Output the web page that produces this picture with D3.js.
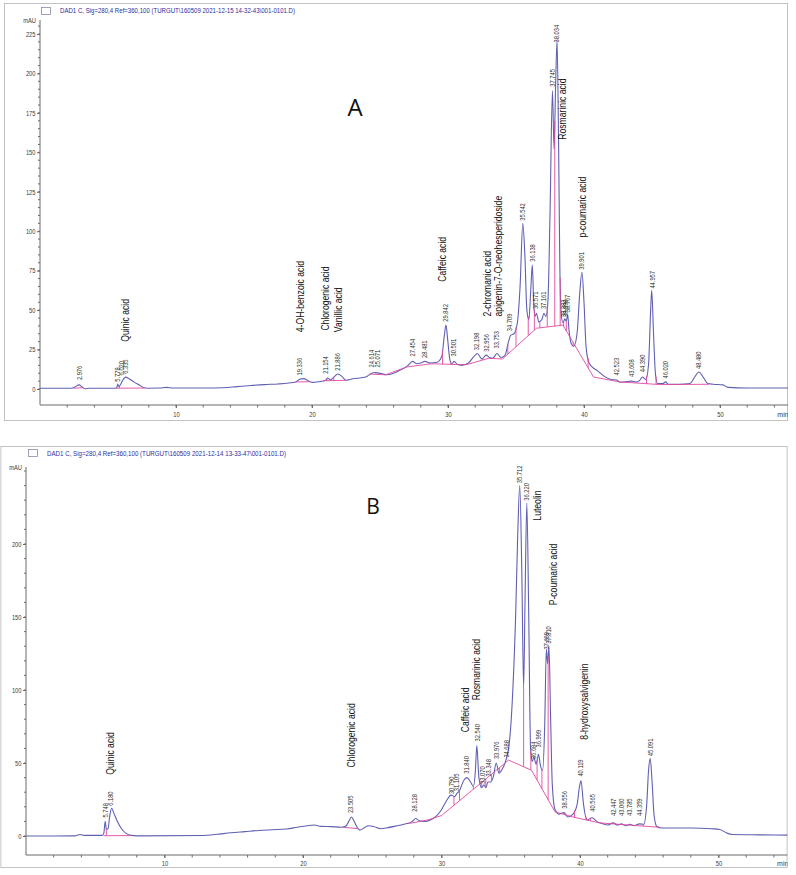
<!DOCTYPE html>
<html>
<head>
<meta charset="utf-8">
<script src="https://cdnjs.cloudflare.com/ajax/libs/d3/7.8.5/d3.min.js"></script>
<style>
  body { margin: 0; background: #fff; }
  svg { display: block; }
  .narrow { font-family: "Liberation Sans", Arial, sans-serif; }
  .ax text { font-family: "Liberation Sans", Arial, sans-serif; font-size: 7px; fill: #3a3a3a; }
  .ax line, .ax path { stroke: #6a6a6a; }
</style>
</head>
<body>
<svg id="chart" width="796" height="875"></svg>
<script>
// ---------- data (time in min, signal in mAU) ----------

var headerA = "DAD1 C, Sig=280,4 Ref=360,100 (TURGUT\\160509 2021-12-15 14-32-43\\001-0101.D)";
var headerB = "DAD1 C, Sig=280,4 Ref=360,100 (TURGUT\\160509 2021-12-14 13-33-47\\001-0101.D)";

var xTicks  = [10, 20, 30, 40, 50];
var yTicksA = [0, 25, 50, 75, 100, 125, 150, 175, 200, 225];
var yTicksB = [0, 50, 100, 150, 200];

// trace A
var traceA = [
 [0,0.5],[2.3,0.5],[2.6,1.5],[2.87,2.6],[3.1,1.3],[3.3,0.2],[3.6,0.5],
 [5.55,0.5],[5.65,1],[5.72,3.2],[5.8,1.5],[5.9,2.5],[6.05,5],[6.3,7.5],[6.55,6.5],[6.9,4.5],[7.3,2.5],[7.6,1],[7.9,0.5],
 [8.8,0.6],[9.3,1.0],[9.8,0.6],[12,0.6],[13.5,0.8],[14.5,1.5],[15.5,2.2],[16.5,2.8],[17.5,3.2],[18.3,3.8],[18.8,4.5],
 [19.1,6.2],[19.4,6.6],[19.7,5.3],[20.0,4.2],[20.5,4.6],[21.0,5.5],[21.15,7],[21.35,5.8],[21.6,7.5],[21.9,9.5],[22.2,8],
 [22.5,5.5],[23,6.5],[23.5,7],[24.0,7.8],[24.4,10],[24.6,10.5],[24.8,10.2],[25.1,9.8],[25.5,9],[26,10],[26.5,12],
 [27,14.5],[27.4,17.5],[27.7,16],[28,16.5],[28.3,17.5],[28.7,16.5],[29.2,17],[29.55,21],[29.72,33],[29.85,40.5],
 [29.98,31],[30.15,18],[30.3,16],[30.45,17.5],[30.7,15.5],[31,15],[31.5,16.5],[31.9,20.5],[32.15,22.5],[32.5,19],
 [32.8,21.5],[33.05,20],[33.3,19.5],[33.6,22.5],[33.9,20],[34.2,21.5],[34.45,30],[34.6,34],[34.85,35],[35.1,42],
 [35.3,65],[35.5,105],[35.65,85],[35.8,50],[35.95,44],[36.08,62],[36.2,78.5],[36.3,55],[36.4,46],[36.5,48],
 [36.68,42.5],[36.9,44],[37.05,48],[37.2,46],[37.35,56],[37.5,110],[37.68,189],[37.8,152],[37.92,195],[38.02,221],
 [38.12,165],[38.22,80],[38.32,48],[38.45,42],[38.6,44.5],[38.7,43],[38.8,47],[38.9,37],[39.05,29],[39.25,27],
 [39.5,36],[39.68,60],[39.85,74],[40.0,55],[40.15,27],[40.35,17],[40.6,14],[41.0,11.5],[41.5,8],[42.0,6],[42.4,5.7],
 [42.65,4.3],[43.0,4.5],[43.5,5],[43.8,4.4],[44.1,5.5],[44.3,7.6],[44.55,6],[44.75,16],[44.9,50],[44.98,62.5],
 [45.1,38],[45.25,10],[45.4,3.5],[45.8,3.4],[46.0,4.5],[46.2,3],[47,3],[47.8,3.5],[48.1,7],[48.45,10.8],[48.8,7],
 [49.1,3.5],[49.5,3],[50.2,2.6],[50.6,1],[52,0.6],[55,0.6]
];

// integration baseline segments A
var baselineA = [
 [[2.45,0.5],[3.2,0.8]],
 [[5.6,0.5],[7.7,0.6]],
 [[18.8,4.5],[19.8,4.6]],
 [[20.8,5.2],[22.5,5.5]],
 [[24.2,9.5],[25.4,9],[27.0,14],[28.8,16],[30.6,15.5],[31.4,15.5],[33.0,19.5],[34.0,19],[36.5,38.5],[38.45,40.5],
  [40.7,7.6],[42.6,4.5],[45.6,2.8],[49.2,3]]
];
var dropsA = [5.85, 21.1, 21.6, 24.7, 29.6, 30.2, 32.5, 33.3, 34.4, 35.0, 35.9, 36.35, 36.75, 37.3, 37.85, 38.25,
              38.5, 38.7, 39.2, 40.3, 44.6, 45.3, 46.2];

var peakLabelsA = [
 ["2.976",2.87,5],["5.778",5.72,4],["6.020",5.97,8],["6.335",6.3,9],["19.336",19.1,8],["21.154",21.0,9],
 ["21.886",21.9,11],["24.614",24.4,13],["25.071",24.8,13],["27.454",27.4,20],["28.481",28.3,19],
 ["29.842",29.85,42],["30.501",30.4,20],["32.198",32.1,24],["32.956",32.8,23],["33.753",33.6,25],
 ["34.709",34.55,36],["35.542",35.5,106],["36.138",36.2,80],["36.571",36.4,50],["37.161",37.05,50],
 ["37.745",37.7,191],["38.034",38.0,219],["38.383",38.52,45],["38.590",38.66,45],["38.767",38.82,48],
 ["39.901",39.85,75],["42.523",42.4,8],["43.608",43.5,7],["44.390",44.3,10],["44.957",45.0,63],
 ["46.020",46.0,6],["48.480",48.45,12]
];
var compoundsA = [
 ["Quinic acid",6.25,30],["4-OH-benzoic acid",19.1,36],["Chlorogenic acid",20.95,37],["Vanillic acid",21.9,36],
 ["Caffeic acid",29.6,68],["2-chromanic acid",32.87,46],["apigenin-7-O-neohesperidoside",33.68,46],
 ["Rosmarinic acid",38.4,158],["p-coumaric acid",39.85,96]
];

// trace B
var traceB = [
 [0,0],[3.5,0.1],[3.9,1.0],[4.2,0.4],[5.5,0.4],[5.62,2],[5.72,10],[5.8,4.5],[5.92,5],[6.05,14],[6.18,19],[6.35,15.5],
 [6.6,10],[6.9,5],[7.2,2],[7.6,0.4],[8,0.1],[12.8,0.3],[13.8,1.2],[14.8,2.2],[15.8,3],[16.8,3.8],[17.8,4.3],[18.8,4.8],
 [19.6,6],[20.3,7],[20.8,7.5],[21.3,6.6],[22,6.4],[22.8,6],[23.1,6.8],[23.3,10],[23.5,13],[23.7,10],[23.9,6],[24.1,4],
 [24.4,5.5],[24.7,7],[25.1,6.5],[25.6,5],[26,5.5],[26.8,7],[27.5,8.5],[27.9,10],[28.13,12],[28.4,10.5],[28.8,10],
 [29.2,11],[29.6,13.5],[30.0,18],[30.35,24],[30.7,28],[30.95,27],[31.1,29],[31.3,31],[31.6,38],[31.84,40],[32.1,37],
 [32.3,34],[32.45,45],[32.55,62],[32.7,40],[32.9,33],[33.07,35],[33.2,33],[33.35,37],[33.55,37],[33.75,41],[33.95,50],
 [34.15,43],[34.4,46],[34.65,52],[34.85,60],[35.0,75],[35.15,100],[35.35,150],[35.5,205],[35.65,240],[35.8,180],
 [35.93,102],[36.03,160],[36.16,228],[36.3,150],[36.43,60],[36.55,51],[36.67,54],[36.83,49],[37.0,56],[37.15,48],
 [37.3,45],[37.45,75],[37.57,128],[37.66,118],[37.76,130],[37.88,80],[38.0,35],[38.2,18],[38.5,15],[38.85,16],
 [39.1,13],[39.5,15],[39.8,22],[39.95,33],[40.07,38],[40.25,22],[40.5,11],[40.87,12.5],[41.2,10],[41.6,8.5],[42,7.5],
 [42.4,9],[42.7,7.5],[43.0,8.3],[43.3,7],[43.6,8],[43.9,7],[44.3,8.3],[44.6,8],[44.82,22],[44.95,45],[45.07,53],
 [45.2,38],[45.35,14],[45.55,6.5],[45.9,5.5],[46.5,5.5],[48,5.5],[49.5,5],[50.1,4.5],[50.6,2],[51,1],[53,0.8],[55,0.6]
];
var baselineB = [
 [[5.6,0.2],[7.6,0.3]],
 [[22.9,6],[24.0,5]],
 [[27.6,8.5],[29.0,11],[30.0,14],[34.85,52],[36.5,45],[38.2,16.5],[39.5,13],[41.4,9],[45.7,6]]
];
var dropsB = [5.8, 23.95, 28.5, 30.9, 31.3, 32.3, 32.9, 33.2, 33.6, 34.2, 35.93, 36.45, 36.9, 37.25, 37.7, 38.85,
              39.6, 40.45, 40.75, 42.7, 43.3, 43.9, 44.6];

var peakLabelsB = [
 ["5.748",5.72,12],["6.180",6.09,20],["23.505",23.45,15],["28.128",28.05,16],["30.790",30.7,28],["31.105",31.1,30],
 ["31.840",31.8,42],["32.540",32.6,64],["33.070",32.97,35],["33.348",33.4,40],["33.976",33.97,52],["34.688",34.7,53],
 ["35.712",35.65,241],["36.220",36.16,229],["36.684",36.67,52],["36.999",37.0,60],["37.699",37.55,127],
 ["37.810",37.75,131],["38.556",38.85,18],["40.119",40.07,40],["40.565",40.87,16],["42.447",42.4,13],
 ["43.060",43.0,13],["43.785",43.6,13],["44.359",44.3,13],["45.091",45.07,54]
];
var compoundsB = [
 ["Quinic acid",6.09,42],["Chlorogenic acid",23.5,47],["Caffeic acid",31.7,71],["Rosmarinic acid",32.5,93],
 ["Luteolin",36.9,216],["P-coumaric acid",38.1,158],["8-hydroxysalvigenin",40.3,66]
];

// ---------- drawing ----------
var svg = d3.select("#chart");
var traceColor = "#6060b2", pink = "#e04aa2";
var squeeze = 0.82;   // ChemStation labels use a narrow face

function interp(pts, t) {
  var i = d3.bisector(function(d){ return d[0]; }).left(pts, t);
  if (i <= 0) return pts[0][1];
  if (i >= pts.length) return pts[pts.length-1][1];
  var a = pts[i-1], b = pts[i];
  return a[1] + (b[1]-a[1]) * (t-a[0]) / (b[0]-a[0]);
}

function narrowFit(sel) {
  sel.each(function() {
    var w = this.getComputedTextLength();
    d3.select(this).attr("textLength", w * squeeze).attr("lengthAdjust", "spacingAndGlyphs");
  });
  return sel;
}

function rotText(g, txt, px, py, size, color) {
  return g.append("text")
    .attr("class", "narrow")
    .attr("transform", "translate(" + (px + size*0.36) + "," + py + ") rotate(-90)")
    .attr("font-size", size)
    .attr("fill", color)
    .text(txt)
    .call(narrowFit);
}

function drawPanel(p) {
  var g = svg.append("g");
  var clipId = "clip" + p.letter;
  svg.append("clipPath").attr("id", clipId).append("rect")
    .attr("x", p.frame[0]).attr("y", p.frame[1]).attr("width", p.frame[2]).attr("height", p.frame[3]);
  g.attr("clip-path", "url(#" + clipId + ")");

  g.append("rect")
    .attr("x", p.frame[0]).attr("y", p.frame[1]).attr("width", p.frame[2]).attr("height", p.frame[3])
    .attr("fill", "#fff").attr("stroke", "#b4b4b4").attr("stroke-width", 1.6);

  var x = d3.scaleLinear().domain([0, 55]).range(p.xr);
  var y = d3.scaleLinear().domain(p.yd).range(p.yr);

  // header
  g.append("rect").attr("x", p.box[0]).attr("y", p.box[1]).attr("width", 9).attr("height", 7)
    .attr("fill", "#fff").attr("stroke", "#8a8aa8").attr("stroke-width", 0.8);
  g.append("text").attr("class", "narrow")
    .attr("x", p.head[0]).attr("y", p.head[1])
    .attr("font-size", 7.5).attr("fill", "#2d2d9c")
    .attr("textLength", p.head[2]).attr("lengthAdjust", "spacingAndGlyphs")
    .text(p.header);

  // y axis
  var ya = g.append("g").attr("class", "ax").attr("transform", "translate(" + p.xr[0] + ",0)");
  ya.append("line").attr("x1", 0).attr("x2", 0).attr("y1", y(p.yMin)).attr("y2", p.yTop);
  ya.selectAll("line.minor").data(d3.range(p.yd[0], p.yTopVal, p.yMinor)).enter().append("line")
    .attr("class", "minor").attr("x1", -2).attr("x2", 0).attr("y1", function(d){ return y(d); })
    .attr("y2", function(d){ return y(d); });
  ya.call(d3.axisLeft(y).tickValues(p.yTicks).tickSize(3).tickPadding(1.5))
    .call(function(s){ s.select(".domain").remove(); s.selectAll(".tick text").call(narrowFit); });
  ya.append("text").attr("x", -4).attr("y", p.yTop + 3).attr("text-anchor", "end").text("mAU").call(narrowFit);

  // x axis
  var xa = g.append("g").attr("class", "ax").attr("transform", "translate(0," + p.axisY + ")");
  xa.append("line").attr("x1", p.xr[0]).attr("x2", p.frame[0] + p.frame[2]).attr("y1", 0).attr("y2", 0);
  xa.selectAll("line.minor").data(d3.range(2, 56, 2)).enter().append("line")
    .attr("class", "minor").attr("x1", function(d){ return x(d); }).attr("x2", function(d){ return x(d); })
    .attr("y1", 0).attr("y2", 2.5);
  xa.call(d3.axisBottom(x).tickValues(xTicks).tickSize(3).tickPadding(p.xPad))
    .call(function(s){ s.select(".domain").remove(); s.selectAll(".tick text").call(narrowFit); });
  xa.append("text").attr("x", x(55) - 5).attr("y", 3 + p.xPad).attr("dy", "0.71em").text("min");

  // trace
  var line = d3.line().x(function(d){ return x(d[0]); }).y(function(d){ return y(d[1]); })
    .curve(d3.curveMonotoneX);
  g.append("path").datum(p.trace).attr("d", line)
    .attr("fill", "none").attr("stroke", traceColor).attr("stroke-width", 1.1);

  // integration baselines and drop lines
  var bl = d3.line().x(function(d){ return x(d[0]); }).y(function(d){ return y(d[1]); });
  p.base.forEach(function(seg) {
    g.append("path").datum(seg).attr("d", bl)
      .attr("fill", "none").attr("stroke", pink).attr("stroke-width", 0.9);
  });
  p.drops.forEach(function(t) {
    var seg = p.base.find(function(s){ return t >= s[0][0] && t <= s[s.length-1][0]; });
    var b0 = seg ? interp(seg, t) : 0;
    g.append("line").attr("x1", x(t)).attr("x2", x(t))
      .attr("y1", y(b0)).attr("y2", y(interp(p.trace, t)))
      .attr("stroke", pink).attr("stroke-width", 0.9);
  });

  // labels
  p.peaks.forEach(function(d) { rotText(g, d[0], x(d[1]), y(d[2]) - 1, 7, "#2a2a2a"); });
  p.names.forEach(function(d) { rotText(g, d[0], x(d[1]), y(d[2]), 10.5, "#111"); });

  g.append("text").attr("x", p.tag[0]).attr("y", p.tag[1]).attr("text-anchor", "middle")
    .attr("font-family", "'Open Sans', 'Noto Sans', sans-serif").attr("font-size", p.tag[2])
    .attr("fill", "#111").text(p.letter);
}

drawPanel({
  letter: "A", header: headerA, trace: traceA, base: baselineA, drops: dropsA,
  peaks: peakLabelsA, names: compoundsA, yTicks: yTicksA,
  frame: [4, 3, 784, 418], box: [41.5, 7.5], head: [60, 13, 235],
  xr: [40, 788], yd: [0, 225], yr: [389, 34], yMin: -10, yTop: 20, yTopVal: 234, yMinor: 5,
  axisY: 405, xPad: 4, tag: [355, 116, 24]
});
drawPanel({
  letter: "B", header: headerB, trace: traceB, base: baselineB, drops: dropsB,
  peaks: peakLabelsB, names: compoundsB, yTicks: yTicksB,
  frame: [0.5, 446, 787, 422], box: [28.5, 449.5], head: [47, 456, 239],
  xr: [26, 787.75], yd: [0, 200], yr: [836, 544], yMin: -13, yTop: 467, yTopVal: 254, yMinor: 10,
  axisY: 855, xPad: 3, tag: [373, 514, 21]
});
</script>
</body>
</html>
